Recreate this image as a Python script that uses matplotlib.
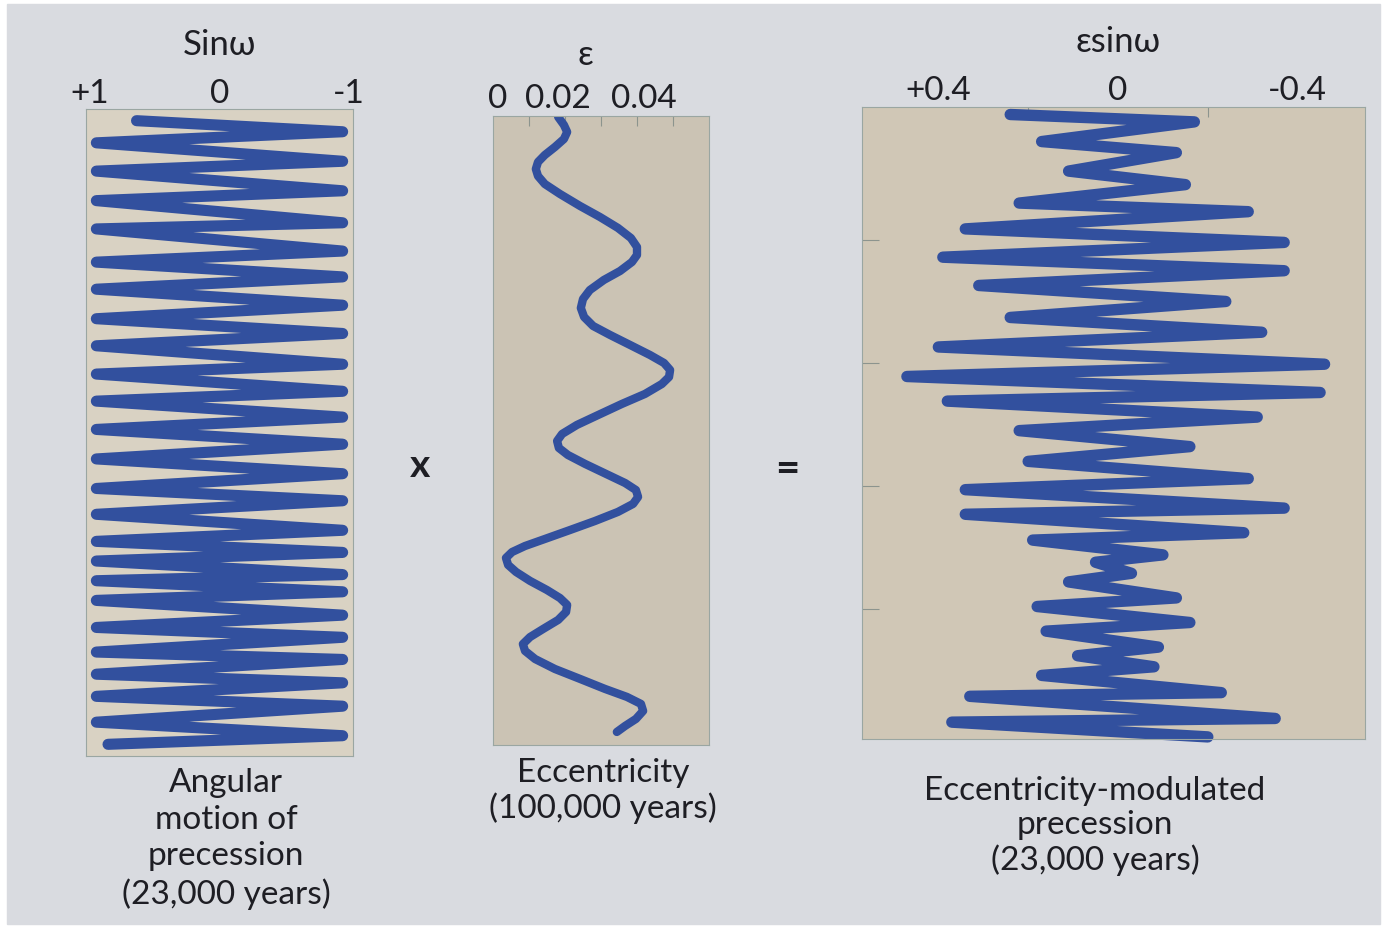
import numpy as np
import matplotlib.pyplot as plt
from matplotlib.patches import Rectangle

W, H = 1385, 929

# --- data; time t in kyr (0 at top, increasing downwards)

# angular motion of precession, sin(omega): turning points
sin_t = [3, 12, 21, 36, 44, 60, 68, 86, 91, 109, 118, 130, 140, 153, 164, 176,
         186, 201, 209, 223, 231, 244, 254, 266, 278, 290, 302, 312, 323, 336,
         345, 354, 361, 372, 377, 386, 393, 405, 415, 423, 435, 441, 453, 460,
         471, 479, 492, 503, 510]
sin_v = [0.64] + [-0.95, 0.95] * 23 + [-0.95, 0.86]

# eccentricity
ecc_t = [0.0, 6.5, 12.2, 17.9, 24.4, 30.9, 36.6, 42.3, 48.0, 54.5, 62.6, 72.4,
         81.3, 90.2, 98.4, 105.7, 112.2, 117.9, 125.2, 132.5, 140.7, 148.0,
         155.3, 162.6, 169.9, 177.2, 185.4, 193.5, 200.0, 205.7, 211.4, 217.1,
         225.2, 233.3, 242.3, 250.4, 257.7, 263.4, 269.1, 274.8, 282.1, 290.2,
         297.6, 303.3, 308.9, 314.6, 321.1, 328.5, 335.8, 343.1, 348.8, 353.7,
         358.5, 364.2, 369.9, 377.2, 384.6, 391.1, 396.7, 402.4, 408.9, 416.3,
         422.8, 428.5, 434.1, 440.7, 448.8, 456.9, 465.0, 471.5, 477.2, 482.9,
         489.4, 495.1, 500.0]
ecc_v = [0.0181, 0.0197, 0.0206, 0.0197, 0.0172, 0.0144, 0.0125, 0.0119, 0.0125,
         0.0144, 0.0186, 0.0242, 0.0297, 0.0347, 0.0383, 0.0400, 0.0400, 0.0386,
         0.0353, 0.0308, 0.0269, 0.0250, 0.0244, 0.0253, 0.0278, 0.0325, 0.0381,
         0.0436, 0.0475, 0.0492, 0.0489, 0.0469, 0.0422, 0.0358, 0.0292, 0.0233,
         0.0192, 0.0178, 0.0183, 0.0208, 0.0256, 0.0314, 0.0367, 0.0397, 0.0403,
         0.0389, 0.0347, 0.0283, 0.0214, 0.0144, 0.0089, 0.0053, 0.0036, 0.0042,
         0.0064, 0.0103, 0.0150, 0.0186, 0.0206, 0.0203, 0.0181, 0.0139, 0.0103,
         0.0083, 0.0089, 0.0117, 0.0172, 0.0242, 0.0311, 0.0372, 0.0411, 0.0417,
         0.0397, 0.0367, 0.0344]

# eccentricity-modulated precession, e*sin(omega): turning points
esin_t = [-2, 4, 20, 29, 44, 55, 70, 77, 91, 102, 114, 125, 137, 150, 163, 175,
          187, 201, 211, 224, 231, 244, 255, 268, 280, 294, 303, 318, 323, 338,
          344, 356, 362, 371, 378, 391, 398, 411, 418, 431, 438, 447, 454, 468,
          471, 489, 492, 504]
esin_v = [0.24, -0.17, 0.17, -0.13, 0.11, -0.15, 0.22, -0.29, 0.34, -0.37,
          0.39, -0.37, 0.31, -0.24, 0.24, -0.32, 0.40, -0.46, 0.47, -0.45,
          0.38, -0.31, 0.22, -0.16, 0.20, -0.29, 0.34, -0.37, 0.34, -0.28,
          0.19, -0.10, 0.05, -0.03, 0.11, -0.13, 0.18, -0.16, 0.16, -0.09,
          0.09, -0.08, 0.17, -0.23, 0.33, -0.35, 0.37, -0.20]

LINE = '#32509e'
TEXT = '#1e1e24'

plt.rcParams['font.family'] = ['Lato', 'DejaVu Sans']

fig = plt.figure(figsize=(W / 100, H / 100), dpi=100)
fig.patch.set_facecolor('white')
fig.patches.append(Rectangle((7 / W, 1 - 925 / H), (1380 - 7) / W, (925 - 5) / H,
                             transform=fig.transFigure, color='#d9dbe0', zorder=-10))


def px_axes(x0, y0, x1, y1):
    return fig.add_axes([x0 / W, 1 - y1 / H, (x1 - x0) / W, (y1 - y0) / H])


def ftext(x, y, s, size=24, **kw):
    fig.text(x / W, 1 - y / H, s, ha='center', va='center', fontsize=size,
             color=TEXT, **kw)


def style(ax, fc, top, bottom, xlim, labels, minor, pad):
    ax.set_facecolor(fc)
    ax.set_xlim(*xlim)
    ax.set_ylim(bottom, top)
    ax.xaxis.tick_top()
    ax.set_xticks([p for p, _ in labels], [s for _, s in labels])
    ax.set_xticks(minor, minor=True)
    ax.tick_params(axis='x', which='major', length=0, pad=pad, labelsize=24,
                   labelcolor=TEXT)
    ax.tick_params(axis='x', which='minor', direction='in', length=7, width=0.8,
                   color='#8c948e')
    ax.set_yticks([])
    for s in ax.spines.values():
        s.set_color('#9aa6a2')
        s.set_linewidth(0.8)


# left panel: sin(omega)
ax1 = px_axes(86, 110, 353, 757)
style(ax1, '#d9d2c3', -6.5, 519.5, (1.03, -1.03),
      [(1, '+1'), (0, '0'), (-1, '-1')], [0], 1)
ax1.plot(sin_v, sin_t, color=LINE, lw=8, solid_capstyle='round',
         solid_joinstyle='round')

# middle panel: eccentricity (labels sit a little apart from their ticks,
# as in the printed figure)
ax2 = px_axes(493, 117, 709, 746)
style(ax2, '#cbc3b4', -0.8, 510.6, (0, 0.06),
      [(0.0013, '0'), (0.018, '0.02'), (0.042, '0.04')],
      [0.01, 0.02, 0.03, 0.04, 0.05], 2.5)
ax2.plot(ecc_v, ecc_t, color=LINE, lw=6, solid_capstyle='round',
         solid_joinstyle='round')

# right panel: e*sin(omega)
ax3 = px_axes(862, 108, 1365, 740)
style(ax3, '#d0c7b6', -8.1, 505.7, (0.57, -0.55),
      [(0.4, '+0.4'), (0, '0'), (-0.4, '-0.4')],
      [0.4, 0.2, 0, -0.2, -0.4], 1.5)
ax3.set_yticks([100, 200, 300, 400], [])
ax3.tick_params(axis='y', direction='in', length=12, width=0.8, color='#8c948e')
ax3.plot(esin_v, esin_t, color=LINE, lw=8.2, solid_capstyle='round',
         solid_joinstyle='round', clip_on=False)

# headings
ftext(220, 45, 'Sinω', 25)
ftext(585, 55, 'ε', 25)
ftext(1118, 42, 'εsinω', 25)

# operators
ftext(420, 466, 'x', 28, fontweight='bold')
ftext(787, 470, '=', 30, fontweight='bold')

# captions
ftext(226, 839, 'Angular\nmotion of\nprecession\n(23,000 years)', 24,
      linespacing=1.27)
ftext(603, 791, 'Eccentricity\n(100,000 years)', 24, linespacing=1.15)
ftext(1095, 826, 'Eccentricity-modulated\nprecession\n(23,000 years)', 24,
      linespacing=1.17)

fig.savefig('out.png', dpi=100, facecolor=fig.get_facecolor())
